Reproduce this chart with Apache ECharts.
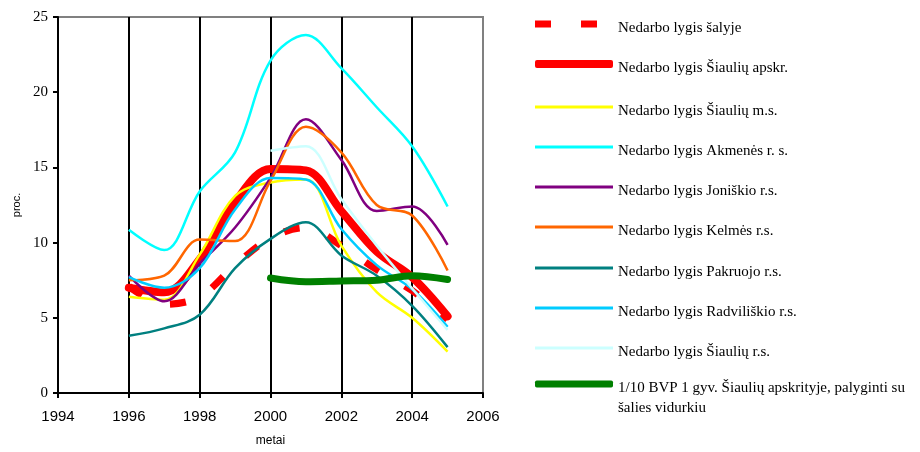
<!DOCTYPE html>
<html>
<head>
<meta charset="utf-8">
<script src="https://cdn.jsdelivr.net/npm/echarts@6/dist/echarts.min.js"></script>
<style>html,body{margin:0;padding:0;background:#fff}#c{width:920px;height:452px}</style>
</head>
<body>
<div id="c"></div>
<script>
const years = [1996, 1997, 1998, 1999, 2000, 2001, 2002, 2003, 2004, 2005];
const names = [
  'Nedarbo lygis šalyje',
  'Nedarbo lygis Šiaulių apskr.',
  'Nedarbo lygis Šiaulių m.s.',
  'Nedarbo lygis Akmenės r. s.',
  'Nedarbo lygis Joniškio r.s.',
  'Nedarbo lygis Kelmės r.s.',
  'Nedarbo lygis Pakruojo r.s.',
  'Nedarbo lygis Radviliškio r.s.',
  'Nedarbo lygis Šiaulių r.s.',
  '1/10 BVP 1 gyv. Šiaulių apskrityje, palyginti su\nšalies vidurkiu'
];
const salyje      = [7.1, 5.9, 6.4, 8.5, 10.3, 11.0, 9.8, 8.2, 6.8, 4.9];
const apskr       = [7.0, 6.7, 8.9, 12.7, 14.9, 14.8, 12.1, 9.4, 7.7, 5.1];
const siauliuMs   = [6.4, 6.2, 9.2, 13.1, 14.0, 14.2, 9.8, 6.7, 5.0, 2.75];
const akmenes     = [10.85, 9.5, 13.4, 16.0, 22.1, 23.8, 21.6, 19.0, 16.4, 12.4];
const joniskio    = [7.8, 6.1, 8.6, 11.0, 14.3, 18.2, 15.5, 12.1, 12.4, 9.85];
const kelmes      = [7.5, 7.8, 10.2, 10.1, 14.1, 17.7, 16.0, 12.5, 11.8, 8.15];
const pakruojo    = [3.8, 4.3, 5.2, 8.3, 10.25, 11.35, 9.15, 7.8, 5.8, 3.05];
const radviliskio = [7.7, 7.0, 8.3, 12.2, 14.3, 14.2, 10.9, 8.5, 6.9, 4.4];
const siauliuRs   = [null, null, null, null, 16.1, 16.4, 12.9, 9.8, 6.95, 4.2];
const bvp         = [null, null, null, null, 7.65, 7.4, 7.45, 7.5, 7.8, 7.55];

const allData = [salyje, apskr, siauliuMs, akmenes, joniskio, kelmes, pakruojo, radviliskio, siauliuRs, bvp];
const colors = ['#FF0000', '#FF0000', '#FFFF00', '#00FFFF', '#800080', '#FF6600', '#008080', '#00CCFF', '#CCFFFF', '#008000'];
const widths = [7, 8, 2.5, 2.5, 2.5, 2.5, 2.5, 2.5, 2.5, 7];
const legendCenters = [23, 63, 106, 146, 186, 226, 267, 307, 347, 384];

function pairs(arr) {
  const out = [];
  arr.forEach((v, i) => { if (v !== null) out.push([years[i], v]); });
  return out;
}

const series = allData.map((arr, i) => ({
  name: names[i],
  type: 'line',
  data: pairs(arr),
  smooth: 0.35,
  symbol: 'none',
  color: colors[i],
  lineStyle: {
    color: colors[i],
    width: widths[i],
    type: i === 0 ? [16, 30] : 'solid',
    cap: (i === 1 || i === 9) ? 'round' : 'butt',
    join: 'round'
  },
  emphasis: { disabled: true }
}));

const baseFont = { fontFamily: 'Liberation Serif', fontSize: 15, color: '#000' };

const legends = names.map((n, i) => {
  const last = i === 9;
  const dashed = i === 0;
  const richDef = {
    e: Object.assign({}, baseFont, { lineHeight: last ? 28 : 8, fontSize: 2 }),
    t: Object.assign({}, baseFont, { lineHeight: last ? 20 : 18, padding: [0, 0, 0, dashed ? 16 : 0] })
  };
  const blockH = last ? 28 + 40 : 8 + 18;
  return {
    data: [n],
    orient: 'vertical',
    left: 530,
    top: legendCenters[i] - blockH / 2 - 5 + (last ? 13 : 4),
    itemWidth: dashed ? 62 : 78,
    itemHeight: Math.max(2, Math.round(widths[i])),
    icon: dashed ? 'path://M0,0H16V7H0ZM46,0H62V7H46Z' : ((i === 1 || i === 9) ? 'roundRect' : 'rect'),
    itemStyle: { color: colors[i] },
    lineStyle: { opacity: 0 },
    formatter: name => '{e| }\n' + name.split('\n').map(s => '{t|' + s + '}').join('\n'),
    textStyle: Object.assign({}, baseFont, { rich: richDef }),
    selectedMode: false
  };
});

const chart = echarts.init(document.getElementById('c'), null, { renderer: 'canvas' });
chart.setOption({
  animation: false,
  backgroundColor: '#fff',
  grid: { left: 58, right: 437, top: 17, bottom: 57, show: true, borderColor: '#808080', borderWidth: 2, backgroundColor: 'transparent' },
  legend: legends,
  xAxis: {
    type: 'value', min: 1994, max: 2006, interval: 2,
    name: 'metai', nameLocation: 'middle', nameGap: 42,
    nameTextStyle: { fontFamily: 'Liberation Sans', fontSize: 12, color: '#000' },
    axisLine: { show: true, onZero: false, lineStyle: { color: '#000', width: 2 } },
    axisTick: { show: true, length: 5, lineStyle: { color: '#000', width: 2 } },
    axisLabel: { fontFamily: 'Liberation Sans', fontSize: 15, color: '#000', margin: 16, formatter: v => String(v) },
    splitLine: { show: true, showMinLine: false, showMaxLine: false, lineStyle: { color: '#000', width: 2 } }
  },
  yAxis: {
    type: 'value', min: 0, max: 25, interval: 5,
    name: 'proc.', nameLocation: 'middle', nameGap: 36,
    nameTextStyle: { fontFamily: 'Liberation Sans', fontSize: 11, color: '#000' },
    axisLine: { show: true, lineStyle: { color: '#000', width: 2 } },
    axisTick: { show: true, length: 5, lineStyle: { color: '#000', width: 2 } },
    axisLabel: { fontFamily: 'Liberation Serif', fontSize: 15, color: '#000', margin: 10 },
    splitLine: { show: false }
  },
  series: series
});
</script>
</body>
</html>
